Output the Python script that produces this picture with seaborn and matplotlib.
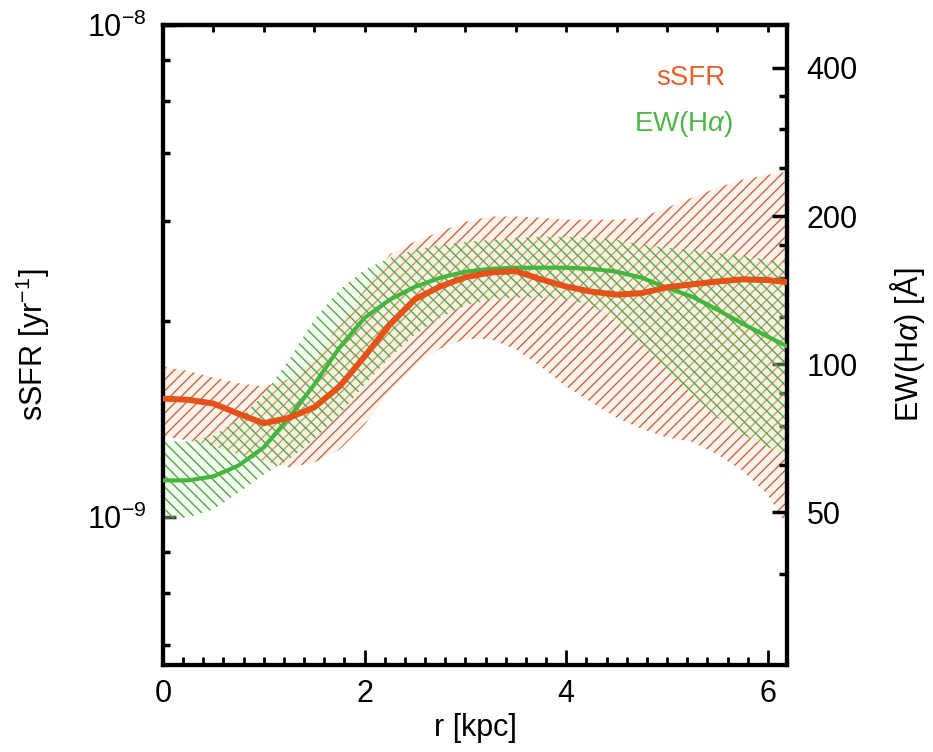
import numpy as np
import matplotlib
matplotlib.use("Agg")
import matplotlib.pyplot as plt
import seaborn as sns
from matplotlib.ticker import FixedLocator, NullFormatter, LogFormatterMathtext

# radial profiles
r_kpc = [0.0, 0.25, 0.5, 0.75, 1.0, 1.25, 1.5, 1.75, 2.0, 2.25, 2.5, 2.75, 3.0,
         3.25, 3.5, 3.75, 4.0, 4.25, 4.5, 4.75, 5.0, 5.25, 5.5, 5.75, 6.0, 6.2]

# sSFR in units of 1e-9 yr^-1
ssfr = [1.74, 1.73, 1.70, 1.62, 1.55, 1.59, 1.67, 1.84, 2.12, 2.46, 2.77, 2.94, 3.07,
        3.14, 3.16, 3.04, 2.94, 2.87, 2.83, 2.85, 2.93, 2.97, 3.01, 3.04, 3.03, 3.00]
ssfr_hi = [2.02, 1.98, 1.92, 1.87, 1.84, 1.91, 2.09, 2.46, 2.90, 3.42, 3.63, 3.80, 3.98,
           4.08, 4.08, 4.06, 4.02, 4.02, 4.02, 4.06, 4.25, 4.46, 4.67, 4.85, 4.96, 5.03]
ssfr_lo = [1.46, 1.43, 1.39, 1.34, 1.30, 1.26, 1.29, 1.37, 1.54, 1.80, 2.02, 2.20, 2.30,
           2.30, 2.19, 2.02, 1.84, 1.71, 1.59, 1.51, 1.45, 1.42, 1.34, 1.24, 1.11, 0.95]

# EW(Halpha) in Angstrom
ew = [58.1, 58.1, 59.2, 62.3, 67.8, 77.9, 90.9, 108.1, 124.3, 135.3, 143.7, 149.9, 154.2,
      156.3, 157.1, 157.1, 157.1, 156.3, 154.2, 149.9, 143.0, 137.2, 129.1, 120.9, 113.8, 108.6]
ew_hi = [69.7, 69.7, 71.6, 77.2, 86.8, 102.2, 123.2, 141.7, 155.6, 164.6, 170.8, 174.9, 177.3,
         179.0, 180.7, 181.6, 181.6, 180.7, 179.0, 174.9, 172.5, 170.8, 168.4, 166.1, 163.1, 160.8]
ew_lo = [48.4, 48.9, 50.7, 54.9, 59.7, 64.1, 70.4, 79.0, 90.9, 103.2, 114.9, 124.3, 131.6,
         135.3, 136.5, 136.5, 135.3, 132.1, 122.0, 109.6, 97.5, 86.8, 77.9, 72.0, 67.8, 65.6]

# axis ticks
ssfr_major = [1e-9, 1e-8]
ssfr_minor = [5.5e-10, 7e-10, 8.5e-10, 2.5e-9, 4e-9, 5.5e-9, 7e-9, 8.5e-9]
ew_major = [50, 100, 200, 400]
ew_minor = [37.5, 62.5, 75, 87.5, 125, 150, 175, 250, 300, 350]
r_major = [0, 2, 4, 6]

red = "#E65119"
green = "#44B53E"

sns.set_theme(style="ticks")
plt.rcParams["font.family"] = ["Liberation Sans", "DejaVu Sans"]
plt.rcParams["mathtext.fontset"] = "custom"
plt.rcParams["mathtext.rm"] = "Liberation Sans"
plt.rcParams["mathtext.it"] = "Liberation Sans:italic"
plt.rcParams["hatch.linewidth"] = 1.0
for key in ["text.color", "axes.labelcolor", "xtick.color", "ytick.color", "axes.edgecolor"]:
    plt.rcParams[key] = "black"

ssfr_v = np.array(ssfr) * 1e-9
ssfr_hi_v = np.array(ssfr_hi) * 1e-9
ssfr_lo_v = np.array(ssfr_lo) * 1e-9

fig = plt.figure(figsize=(9.33, 7.52), dpi=100)
ax = fig.add_axes([0.1747, 0.1157, 0.6688, 0.8511])
ax2 = ax.twinx()
# overlay sharing the left scale, so the sSFR curve sits on top of everything
ax_line = fig.add_axes(ax.get_position(), sharex=ax, sharey=ax)
ax_line.patch.set_visible(False)

# sSFR band (left axis)
ax.fill_between(r_kpc, ssfr_lo_v, ssfr_hi_v, facecolor=(1.0, 0.9, 0.86, 0.5),
                edgecolor="#C8693E", hatch="///", linewidth=0, zorder=1)

# EW band + line (right axis)
ax2.fill_between(r_kpc, ew_lo, ew_hi, facecolor=(0.87, 0.97, 0.83, 0.35),
                 edgecolor="#55A843", hatch="\\\\\\", linewidth=0, zorder=1)
sns.lineplot(x=r_kpc, y=ew, ax=ax2, color=green, linewidth=3, zorder=3)

# sSFR line
sns.lineplot(x=r_kpc, y=ssfr_v, ax=ax_line, color=red, linewidth=4.3, zorder=3)
ax_line.axis("off")

# left axis
ax.set_yscale("log")
ax.set_ylim(5e-10, 1e-8)
ax.yaxis.set_major_locator(FixedLocator(ssfr_major))
ax.yaxis.set_major_formatter(LogFormatterMathtext())
ax.yaxis.set_minor_locator(FixedLocator(ssfr_minor))
ax.yaxis.set_minor_formatter(NullFormatter())
ax.set_xlim(0, 6.19)
ax.set_xticks(r_major)
ax.xaxis.set_minor_locator(FixedLocator(np.arange(0, 6.2, 0.2)))

ax.tick_params(axis="y", which="major", direction="in", length=9, width=2.5,
               right=False, labelsize=22, pad=12)
ax.tick_params(axis="y", which="minor", direction="in", length=5, width=2.5, right=False)
ax.tick_params(axis="x", which="major", direction="in", length=11, width=2,
               top=False, labelsize=22, pad=10)
ax.tick_params(axis="x", which="minor", direction="in", length=6, width=2, top=False)

ax.set_ylabel("sSFR [yr$^{-1}$]", fontsize=22)
ax.yaxis.set_label_coords(-0.178, 0.5)
ax.set_xlabel("r [kpc]", fontsize=22)
ax.xaxis.set_label_coords(0.5, -0.075)

# right axis
ax2.set_yscale("log")
ax2.set_ylim(24.5, 489)
ax2.set_yticks(ew_major, labels=[str(v) for v in ew_major])
ax2.yaxis.set_minor_locator(FixedLocator(ew_minor))
ax2.yaxis.set_minor_formatter(NullFormatter())
ax2.tick_params(axis="y", which="major", direction="in", length=11, width=2.5,
                left=False, labelsize=22, pad=14)
ax2.tick_params(axis="y", which="minor", direction="in", length=6, width=2.5, left=False)
ax2.set_ylabel("EW(H$\\alpha$) [Å]", fontsize=22)
ax2.yaxis.set_label_coords(1.162, 0.5)

# top ticks every 0.5 kpc
top = ax.secondary_xaxis("top")
top.set_xticks(np.arange(0.5, 6.2, 0.5))
top.tick_params(direction="in", length=5, width=2, labeltop=False)

for a in (ax, ax2):
    for s in a.spines.values():
        s.set_linewidth(3)
        s.set_visible(True)
        s.set_color("black")
top.spines["top"].set_linewidth(3)

# key
ax.text(0.9006, 0.917, "sSFR", transform=ax.transAxes, ha="right", va="center",
        fontsize=20, color="#E8602C")
ax.text(0.9135, 0.845, "EW(H$\\alpha$)", transform=ax.transAxes, ha="right", va="center",
        fontsize=20, color="#4DB847")

fig.savefig("out.png", dpi=100)
